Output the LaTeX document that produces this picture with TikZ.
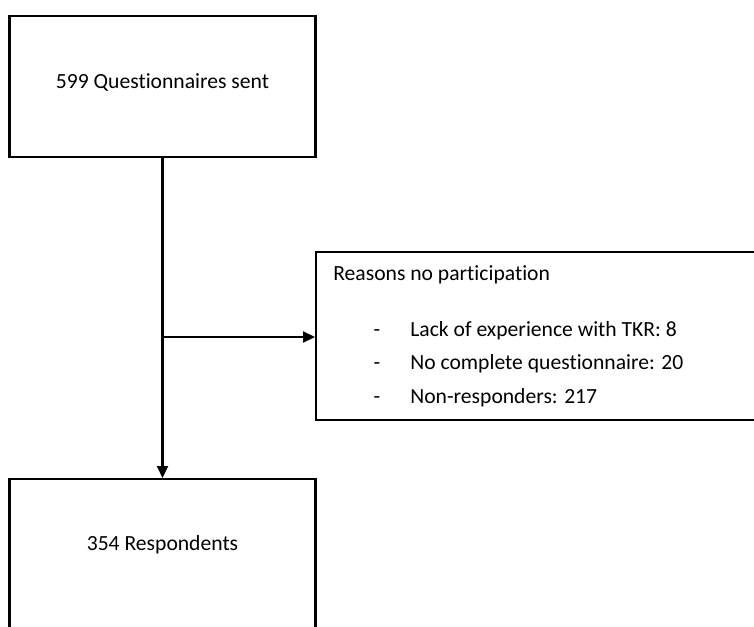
\documentclass[tikz,border=0pt]{standalone}
\usepackage{fontspec}
\setmainfont{Carlito}[Ligatures=NoCommon]
\usetikzlibrary{positioning,arrows.meta}
\tikzset{
	flowbox/.style={%
		draw, line width=1.2pt,
		minimum width=#1,
		inner sep=0pt
	},
	flowbox/.default=6.12cm,
	flowtext/.style={font=\fontsize{12.3}{15}\selectfont, inner sep=0pt},
	flowline/.style={line width=1.2pt},
	>={Triangle[length=2.4mm,width=2.2mm]}
}

\begin{document}
\begin{tikzpicture}
	% page of the reference, boxes run off it
	\useasboundingbox (0,0) rectangle (15.08,12.52);
	\clip (0,0) rectangle (15.08,12.52);

	% boxes
	\node[flowbox, minimum height=2.82cm, anchor=north] (sent) at (3.25,12.22) {};
	\node[flowbox, minimum height=4cm, anchor=north] (resp) at (3.25,2.96) {};
	\node[flowbox=9cm, minimum height=3.36cm, anchor=west] (reasons) at (6.30,5.80) {};

	% texts in the boxes
	\node[flowtext, below=1.34cm of sent.north, anchor=center] (senttxt) {599 Questionnaires sent};
	\node[flowtext, below=1.34cm of resp.north, anchor=center] (resptxt) {354 Respondents};
	\node[flowtext, anchor=west] (reasonstxt) at (6.66,7.02) {Reasons no participation};
	\foreach \txt [count=\i] in {Lack of experience with TKR: 8, No complete questionnaire: 20, Non-responders: 217}{
		\node[flowtext, anchor=base] (dash\i) at (7.54,{5.80-0.67*(\i-1)}) {-};
		\node[flowtext, anchor=base west] (item\i) at (8.2,{5.80-0.67*(\i-1)}) {\txt};
	}

	% arrows between boxes
	\coordinate (split) at (sent.south |- 0,5.78);
	\draw[flowline,->] (sent.south) -- (resp.north);
	\draw[flowline,->] (split) -- (split -| reasons.west);
\end{tikzpicture}
\end{document}
